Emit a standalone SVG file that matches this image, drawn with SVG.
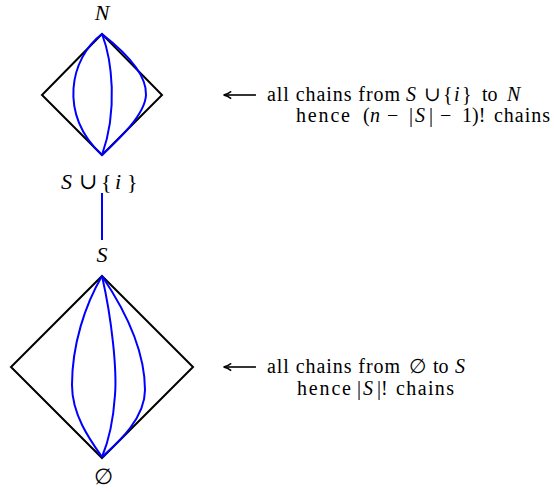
<svg xmlns="http://www.w3.org/2000/svg" width="554" height="492" viewBox="0 0 554 492">
<style>
text{font-family:"Liberation Serif","DejaVu Serif",serif;font-size:20px;fill:#000}
.mi{font-style:italic}
.lbl{font-size:22px}
.dia{fill:none;stroke:#000;stroke-width:2;stroke-linejoin:miter}
.chain{fill:none;stroke:#0000ff;stroke-width:2}
.arr{stroke:#000;stroke-width:1.6;fill:none}
</style>
<defs>
<marker id="ah" viewBox="0 0 10 10" refX="9" refY="5" markerWidth="9" markerHeight="9" markerUnits="userSpaceOnUse" orient="auto">
<path d="M1,1 Q5,4.2 9.5,5 Q5,5.8 1,9" fill="none" stroke="#000" stroke-width="1.7"/>
</marker>
</defs>
<rect width="554" height="492" fill="#fff"/>

<g id="top-interval">
<polygon class="dia" points="102,34 162,95 102,155 42,95"/>
<path class="chain" d="M102,34 C70,58 58,115 102,155"/>
<path class="chain" d="M102,34 C112,60 118,110 102,155"/>
<path class="chain" d="M102,34 C125,52 147,75 146,95 C145,115 118,140 102,155"/>
<text class="mi lbl" x="102" y="20" text-anchor="middle">N</text>
<text class="lbl" y="189"><tspan class="mi" x="61">S</tspan><tspan x="79">∪</tspan><tspan x="101">{</tspan><tspan class="mi" x="115">i</tspan><tspan x="127">}</tspan></text>
</g>

<g id="bottom-interval">
<polygon class="dia" points="102,276 193,367 102,458 11,367"/>
<path class="chain" d="M102,276 C85,305 72,345 72,385 C72,415 90,440 102,457"/>
<path class="chain" d="M102,276 C112,320 117,370 115,395 C113,425 107,445 102,457"/>
<path class="chain" d="M102,276 C125,310 145,350 145,390 C145,420 115,445 102,457"/>
<text class="mi lbl" x="102" y="262" text-anchor="middle">S</text>
<text class="lbl" x="103" y="484" text-anchor="middle">∅</text>
</g>

<g id="connectors">
<line x1="102" y1="193" x2="102" y2="240" stroke="#0000ff" stroke-width="2"/>
<line class="arr" x1="256" y1="95" x2="224" y2="95" marker-end="url(#ah)"/>
<line class="arr" x1="256" y1="367" x2="224" y2="367" marker-end="url(#ah)"/>
</g>

<g id="note-top">
<text y="101"><tspan x="267" textLength="133">all chains from</tspan><tspan class="mi" x="406">S</tspan><tspan x="424">∪</tspan><tspan x="443">{</tspan><tspan class="mi" x="454">i</tspan><tspan x="462">}</tspan><tspan x="482">to</tspan><tspan class="mi" x="507">N</tspan></text>
<text y="122"><tspan x="296" textLength="54">hence</tspan><tspan x="363">(</tspan><tspan class="mi" x="370">n</tspan><tspan x="387">−</tspan><tspan x="409">|</tspan><tspan class="mi" x="415">S</tspan><tspan x="429">|</tspan><tspan x="440">−</tspan><tspan x="462">1)!</tspan><tspan x="494" textLength="56">chains</tspan></text>
</g>

<g id="note-bottom">
<text y="373"><tspan x="267" textLength="133">all chains from</tspan><tspan x="409">∅</tspan><tspan x="433">to</tspan><tspan class="mi" x="455">S</tspan></text>
<text y="395"><tspan x="297" textLength="54">hence</tspan><tspan x="357">|</tspan><tspan class="mi" x="363">S</tspan><tspan x="377">|!</tspan><tspan x="396" textLength="58">chains</tspan></text>
</g>
</svg>
